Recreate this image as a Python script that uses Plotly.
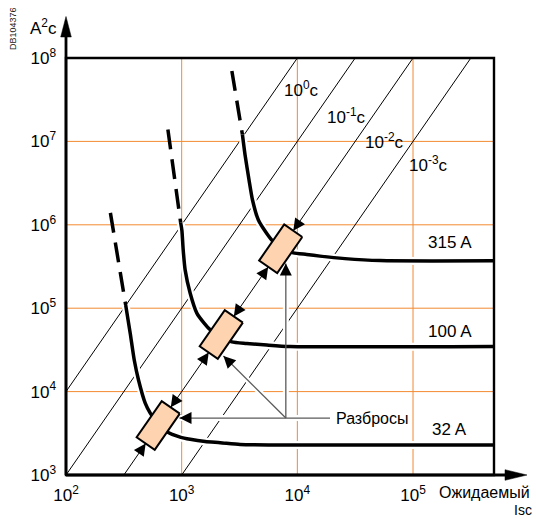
import numpy as np
import plotly.graph_objects as go

# ---------------- data ----------------
x_tick_values = [1e2, 1e3, 1e4, 1e5]
x_tick_labels = ["10<sup>2</sup>", "10<sup>3</sup>", "10<sup>4</sup>", "10<sup>5</sup>"]
y_tick_values = [1e3, 1e4, 1e5, 1e6, 1e7, 1e8]
y_tick_labels = ["10<sup>3</sup>", "10<sup>4</sup>", "10<sup>5</sup>",
                 "10<sup>6</sup>", "10<sup>7</sup>", "10<sup>8</sup>"]

# lines of constant time  I^2 t
time_values_s = [1, 0.1, 0.01, 0.001]
time_labels = ["10<sup>0</sup>c", "10<sup>-1</sup>c", "10<sup>-2</sup>c", "10<sup>-3</sup>c"]

fuse_labels = ["315 A", "100 A", "32 A"]

# 315 A fuse: prospective current (A) -> I^2t (A^2 s)
i_315_dash = [2716, 3350]
e_315_dash = [6.98e7, 1.21e7]
i_315 = [3350, 3535, 3825, 4100, 4603, 5440, 6205, 7230, 9230, 12050, 15700, 25800, 51800, 5.0e5]
e_315 = [1.21e7, 6.82e6, 3.43e6, 1.97e6, 1.14e6, 7.87e5, 6.24e5, 5.25e5, 4.61e5, 4.41e5, 4.21e5,
         3.93e5, 3.72e5, 3.70e5]

# 100 A fuse
i_100_dash = [760, 980]
e_100_dash = [1.39e7, 1.06e6]
i_100 = [980, 1004, 1031, 1072, 1183, 1352, 1563, 1762, 2193, 2714, 3657, 5445, 8650, 5.0e5]
e_100 = [1.06e6, 8.62e5, 4.97e5, 2.86e5, 1.52e5, 8.73e4, 6.62e4, 5.54e4, 4.62e4, 3.95e4, 3.78e4,
         3.61e4, 3.47e4, 3.47e4]

# 32 A fuse
i_32_dash = [242, 328]
e_32_dash = [1.39e6, 1.09e5]
i_32 = [328, 359, 389, 424, 484, 535, 627, 745, 970, 1185, 1597, 2152, 3200, 5810, 5.0e5]
e_32 = [1.09e5, 5.02e4, 2.39e4, 1.37e4, 7.29e3, 5.53e3, 4.08e3, 3.30e3, 2.85e3, 2.68e3, 2.52e3,
        2.44e3, 2.32e3, 2.29e3, 2.29e3]

# spread boxes sit on the 10^-2 s line
spread_time_s = 0.01
spread_box_current = [7180, 2200, 627]
spread_label = "Разбросы"
spread_hub_current = 7950
spread_hub_i2t = 4820
spread_tip_current = [957, 2296, 7950]
spread_tip_i2t = [4820, 2.67e4, 3.44e5]
spread_line_end_current = 19150

# ---------------- layout constants ----------------
W, H = 536, 519
ML, MR, MT, MB = 66, 42, 58, 44
XR = [2, 5.7]
YR = [3, 8]
PW, PH = W - ML - MR, H - MT - MB
PX = PW / (XR[1] - XR[0])   # px per decade
PY = PH / (YR[1] - YR[0])
FONT = "Liberation Sans, Arial, sans-serif"
GRID = "#F28A30"
BOX_FILL = "#FDD3B0"
GRAY = "#5a5a5a"

time_label_pos = [(4.040, 7.628), (4.429, 7.305), (4.753, 7.005), (5.133, 6.729)]
fuse_label_pos = [(5.319, 5.782), (5.319, 4.715), (5.315, 3.540)]
spread_label_pos = (4.316, 3.683)

fig = go.Figure()

# orange grid
I_span = [10 ** XR[0], 10 ** XR[1]]
E_span = [10 ** YR[0], 10 ** YR[1]]
grid_x, grid_y = [], []
for v in x_tick_values[1:]:
    grid_x += [v, v, None]
    grid_y += [E_span[0], E_span[1], None]
for v in y_tick_values[1:-1]:
    grid_x += [I_span[0], I_span[1], None]
    grid_y += [v, v, None]
fig.add_trace(go.Scatter(x=grid_x, y=grid_y, mode="lines", line=dict(color=GRID, width=1),
                         hoverinfo="skip"))

# constant time lines
for t in time_values_s:
    fig.add_trace(go.Scatter(x=I_span, y=[i * i * t for i in I_span], mode="lines",
                             line=dict(color="black", width=1), hoverinfo="skip"))

# gray leader lines (data)
gx = [spread_tip_current[0], spread_line_end_current, None,
      spread_hub_current, spread_tip_current[1], None,
      spread_hub_current, spread_tip_current[2]]
gy = [spread_tip_i2t[0], spread_hub_i2t, None,
      spread_hub_i2t, spread_tip_i2t[1], None,
      spread_hub_i2t, spread_tip_i2t[2]]
fig.add_trace(go.Scatter(x=gx, y=gy, mode="lines", line=dict(color="white", width=6),
                         hoverinfo="skip"))

# fuse curves
curves = [(i_315, e_315, i_315_dash, e_315_dash),
          (i_100, e_100, i_100_dash, e_100_dash),
          (i_32, e_32, i_32_dash, e_32_dash)]
for ci, ce, di, de in curves:
    fig.add_trace(go.Scatter(x=ci, y=ce, mode="lines",
                             line=dict(color="white", width=8, shape="spline", smoothing=0.6),
                             hoverinfo="skip"))
for ci, ce, di, de in curves:
    fig.add_trace(go.Scatter(x=ci, y=ce, mode="lines",
                             line=dict(color="black", width=3.5, shape="spline", smoothing=0.6),
                             hoverinfo="skip"))
    fig.add_trace(go.Scatter(x=di, y=de, mode="lines",
                             line=dict(color="black", width=3.5, dash="20px,10px"),
                             hoverinfo="skip"))

fig.add_trace(go.Scatter(x=gx, y=gy, mode="lines", line=dict(color=GRAY, width=1.3),
                         hoverinfo="skip"))

# boxes
norm = np.hypot(PX, 2 * PY)
ux, uy = PX / norm, 2 * PY / norm      # along line (screen, up positive)
vx, vy = uy, -ux                       # perpendicular
L, WD, HL = 22, 11, 13
for Ic in spread_box_current:
    lx = np.log10(Ic)
    ly = np.log10(Ic * Ic * spread_time_s)
    bx, by = [], []
    for a, b in [(L, WD), (L, -WD), (-L, -WD), (-L, WD), (L, WD)]:
        dxp = a * ux + b * vx
        dyp = a * uy + b * vy
        bx.append(10 ** (lx + dxp / PX))
        by.append(10 ** (ly + dyp / PY))
    fig.add_trace(go.Scatter(x=bx, y=by, mode="lines", fill="toself", fillcolor=BOX_FILL,
                             line=dict(color="black", width=2), hoverinfo="skip"))
    for sgn in (-1, 1):
        tx = lx + sgn * L * ux / PX
        ty = ly + sgn * L * uy / PY
        fig.add_annotation(x=tx, y=ty, ax=sgn * HL * ux, ay=-sgn * HL * uy, text="",
                           showarrow=True, arrowhead=2, arrowsize=2.4, arrowwidth=1,
                           arrowcolor="black")

# gray arrowheads
for tc, te in zip(spread_tip_current, spread_tip_i2t):
    dx = (np.log10(spread_hub_current) - np.log10(tc)) * PX
    dy = (np.log10(spread_hub_i2t) - np.log10(te)) * PY
    n = np.hypot(dx, dy)
    fig.add_annotation(x=np.log10(tc), y=np.log10(te), ax=dx / n * 12, ay=-dy / n * 12, text="",
                       showarrow=True, arrowhead=2, arrowsize=1.85, arrowwidth=1.3,
                       arrowcolor="black")

# labels
for txt, (x, y) in zip(time_labels, time_label_pos):
    fig.add_annotation(x=x, y=y, text=txt, showarrow=False, xanchor="center", yanchor="middle",
                       font=dict(family=FONT, size=17, color="black"))
for txt, (x, y) in zip(fuse_labels, fuse_label_pos):
    fig.add_annotation(x=x, y=y, text=txt, showarrow=False, xanchor="center", yanchor="middle",
                       font=dict(family=FONT, size=17, color="black"))
fig.add_annotation(x=spread_label_pos[0], y=spread_label_pos[1], text=spread_label, showarrow=False,
                   xanchor="left", yanchor="middle", font=dict(family=FONT, size=16, color="black"))


def pxx(p):
    return (p - ML) / PW


def pxy(p):
    return (H - MB - p) / PH


fig.add_annotation(xref="paper", yref="paper", x=pxx(43), y=pxy(27), text="A<sup>2</sup>c",
                   xanchor="center", yanchor="middle",
                   showarrow=False, font=dict(family=FONT, size=17, color="black"))
fig.add_annotation(xref="paper", yref="paper", x=pxx(531), y=pxy(492), text="Ожидаемый",
                   xanchor="right", yanchor="middle", borderpad=0,
                   showarrow=False, font=dict(family=FONT, size=16, color="black"))
fig.add_annotation(xref="paper", yref="paper", x=pxx(533), y=pxy(510.5), text="Isc",
                   xanchor="right", yanchor="middle", borderpad=0,
                   showarrow=False, font=dict(family=FONT, size=14, color="black"))
fig.add_annotation(xref="paper", yref="paper", x=pxx(13), y=pxy(29), text="DB104376",
                   xanchor="center", yanchor="middle",
                   textangle=-90, showarrow=False, font=dict(family=FONT, size=9, color="#222"))

# frame and axis arrows
shapes = [
    dict(type="rect", xref="paper", yref="paper", x0=0, x1=1, y0=0, y1=1,
         line=dict(color="black", width=2.4), layer="above"),
    dict(type="line", xref="paper", yref="paper", x0=0, x1=0, y0=0, y1=pxy(34),
         line=dict(color="black", width=2.8), layer="above"),
    dict(type="line", xref="paper", yref="paper", x0=0, x1=pxx(507), y0=0, y1=0,
         line=dict(color="black", width=2.8), layer="above"),
    dict(type="path", xref="paper", yref="paper", layer="above",
         path=f"M 0,{pxy(16.5)} L {-5.3/PW},{pxy(37)} L {5.3/PW},{pxy(37)} Z",
         fillcolor="black", line=dict(color="black", width=0.5)),
    dict(type="path", xref="paper", yref="paper", layer="above",
         path=f"M {pxx(527)},0 L {pxx(505)},{5.3/PH} L {pxx(505)},{-5.3/PH} Z",
         fillcolor="black", line=dict(color="black", width=0.5)),
]

fig.update_layout(
    width=W, height=H, margin=dict(l=ML, r=MR, t=MT, b=MB),
    plot_bgcolor="white", paper_bgcolor="white", showlegend=False, shapes=shapes,
    font=dict(family=FONT, size=17, color="black"),
    xaxis=dict(type="log", range=XR, tickmode="array", tickvals=x_tick_values,
               ticktext=x_tick_labels, showgrid=False,
               zeroline=False, showline=False, ticks="", ticklabelstandoff=8,
               tickfont=dict(family=FONT, size=17, color="black")),
    yaxis=dict(type="log", range=YR, tickmode="array", tickvals=y_tick_values,
               ticktext=y_tick_labels, showgrid=False,
               zeroline=False, showline=False, ticks="", ticklabelstandoff=9,
               tickfont=dict(family=FONT, size=17, color="black")),
)

fig.write_html("out.html", config={"displayModeBar": False},
               post_script="document.body.style.margin='0px';")
